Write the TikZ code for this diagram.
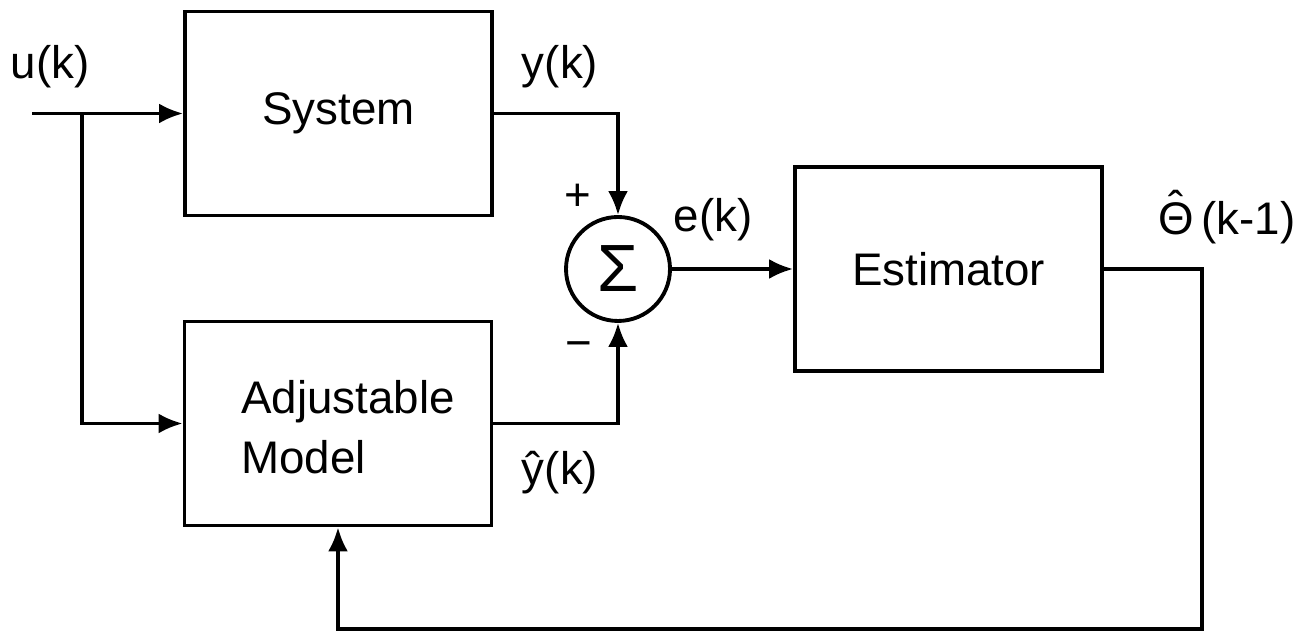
\documentclass[tikz,border=0pt]{standalone}
\usepackage{fontspec}
\setmainfont{Liberation Sans}
\usetikzlibrary{arrows.meta}
\begin{document}
\begin{tikzpicture}[>={Latex[length=2.4mm,width=2mm]},line width=1pt,
  block/.style={draw,line width=1.1pt,minimum width=3.07cm,minimum height=2.04cm,inner sep=0pt},
  lbl/.style={font=\fontsize{13}{17}\selectfont}]
  \useasboundingbox (0,0) rectangle (13.11,6.33);
  \node[block,lbl] (sys) at (3.385,5.195) {System};
  \node[block] (mod) at (3.38,2.095) {};
  \node[lbl,align=left] (modtxt) at (3.48,2.06) {Adjustable\\Model};
  \node[block,lbl] (est) at (9.485,3.64) {Estimator};
  \node[draw,circle,line width=1.1pt,minimum size=1.04cm,inner sep=0pt,
    font=\fontsize{19}{21}\selectfont] (sum) at (6.18,3.64) {Σ};
  \coordinate (in) at (0.32,5.195);
  \coordinate (br) at (0.82,5.195);
  \coordinate (fb) at (12.02,0.04);
  \draw[->] (in) -- (sys.west);
  \draw[->] (br) |- (mod.west);
  \draw[->] (sys.east) -| (sum.north);
  \draw[->] (mod.east) -| (sum.south);
  \draw[->] (sum.east) -- (est.west);
  \draw[->] (est.east) -| (fb) -| (mod.south);
  \node[lbl] (ulbl) at (0.50,5.66) {u(k)};
  \node[lbl] (ylbl) at (5.60,5.66) {y(k)};
  \node[lbl] (plus) at (5.78,4.36) {+};
  \node[lbl] (minus) at (5.79,2.83) {−};
  \node[lbl] (elbl) at (7.13,4.13) {e(k)};
  \node[lbl] (yhlbl) at (5.60,1.60) {ŷ(k)};
  \node[lbl] (thlbl) at (12.27,4.10) {\ooalign{Θ\cr\hidewidth\raisebox{0.25em}{ˆ}\hidewidth\cr}\,(k-1)};
\end{tikzpicture}
\end{document}
